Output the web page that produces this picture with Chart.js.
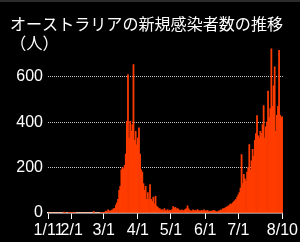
<!DOCTYPE html>
<html>
<head>
<meta charset="utf-8">
<script src="https://cdn.jsdelivr.net/npm/chart.js@4.4.1/dist/chart.umd.min.js"></script>
<style>
  html, body { margin: 0; padding: 0; background: #000; }
</style>
</head>
<body>
<canvas id="chart" width="300" height="242"></canvas>
<script>
  // --- data ---
  const titleLines = ['オーストラリアの新規感染者数の推移', '（人）'];
  const startDay = new Date(2020, 0, 11);
  const dayCount = 213;
  const xTickLabels = ['1/11', '2/1', '3/1', '4/1', '5/1', '6/1', '7/1', '8/10'];
  const yTickValues = [0, 200, 400, 600];

  // daily new cases
  const jan = [0, 0, 0, 0, 0, 0, 0, 0, 0, 0, 0, 0, 0, 0, 4, 1, 0, 0, 1, 2, 1];
  const feb = [3, 1, 0, 2, 0, 0, 0, 0, 0, 0, 0, 0, 0, 0, 0, 0, 0, 0, 0, 0, 7, 0, 0, 0, 0, 0, 1, 3, 2];
  const mar = [2, 4, 8, 6, 14, 10, 8, 12, 14, 20, 20, 35, 45, 60, 100, 117, 190, 200, 195, 210,
               260, 404, 610, 330, 404, 360, 390, 654, 320, 360, 300];
  const apr = [330, 375, 260, 190, 180, 130, 100, 117, 60, 90, 60, 125, 60, 50, 70,
               40, 73, 30, 25, 20, 18, 12, 15, 10, 20, 12, 10, 15, 8, 12];
  const may = [10, 15, 28, 22, 25, 18, 20, 15, 12, 10, 14, 8, 12, 16, 20, 32,
               18, 12, 10, 8, 14, 10, 12, 9, 15, 11, 8, 10, 12, 9, 14];
  const jun = [10, 8, 12, 6, 9, 7, 10, 8, 12, 9, 6, 5, 8, 10, 14, 12, 18, 20, 22, 25,
               28, 30, 35, 40, 38, 45, 50, 55, 60, 70];
  const jul = [80, 90, 110, 257, 130, 170, 150, 140, 180, 200, 301, 190, 230, 280, 250, 320,
               350, 429, 340, 330, 360, 350, 390, 473, 330, 380, 400, 537, 420, 460, 723];
  const aug = [470, 560, 644, 360, 430, 470, 717, 430, 420, 425];

  const newCases = [].concat(jan, feb, mar, apr, may, jun, jul, aug);

  const dayLabels = [];
  for (let i = 0; i < dayCount; i++) {
    const d = new Date(startDay.getFullYear(), startDay.getMonth(), startDay.getDate() + i);
    dayLabels.push((d.getMonth() + 1) + '/' + d.getDate());
  }

  const numFont = { family: "'Liberation Sans Narrow', 'Liberation Sans', sans-serif", size: 16 };

  const background = {
    id: 'background',
    beforeDraw(chart) {
      const ctx = chart.ctx;
      ctx.save();
      ctx.fillStyle = '#000';
      ctx.fillRect(0, 0, chart.width, chart.height);
      ctx.fillStyle = '#2b2b2b';
      ctx.fillRect(0, 0, chart.width, 2);
      ctx.restore();
    }
  };

  new Chart(document.getElementById('chart').getContext('2d'), {
    type: 'bar',
    data: {
      labels: dayLabels,
      datasets: [{
        data: newCases,
        backgroundColor: '#ff3c00',
        borderWidth: 0,
        barPercentage: 1,
        categoryPercentage: 1
      }]
    },
    options: {
      responsive: false,
      animation: false,
      devicePixelRatio: 1,
      layout: { padding: { left: 10, right: 17, top: 0, bottom: 0 } },
      plugins: {
        legend: { display: false },
        tooltip: { enabled: false },
        title: {
          display: true,
          text: titleLines,
          align: 'start',
          color: '#fff',
          font: { family: "'Noto Sans CJK JP', sans-serif", size: 16.3, weight: 'normal', lineHeight: 1.18 },
          padding: { top: 14, bottom: -12 }
        }
      },
      scales: {
        x: {
          offset: true,
          grid: { drawOnChartArea: false, offset: false, color: '#fff', tickLength: 6 },
          border: { display: true, color: '#fff', width: 1.5 },
          ticks: { autoSkip: false, maxRotation: 0, color: '#fff', font: numFont, padding: 2 },
          afterBuildTicks: scale => {
            scale.ticks = scale.ticks.filter(t => xTickLabels.includes(dayLabels[t.value]));
          },
          afterFit: scale => { scale.height = 29; }
        },
        y: {
          min: 0,
          max: 760,
          afterBuildTicks: scale => {
            scale.ticks = yTickValues.map(v => ({ value: v }));
          },
          grid: {
            color: ctx => (ctx.tick && ctx.tick.value === 0) ? 'rgba(0,0,0,0)' : '#c8c8c8',
            drawTicks: false,
            lineWidth: 1
          },
          border: { display: false, dash: [1, 1] },
          ticks: { color: '#fff', font: numFont, padding: 5 },
          afterFit: scale => { scale.width = 38; }
        }
      }
    },
    plugins: [background]
  });
</script>
</body>
</html>
